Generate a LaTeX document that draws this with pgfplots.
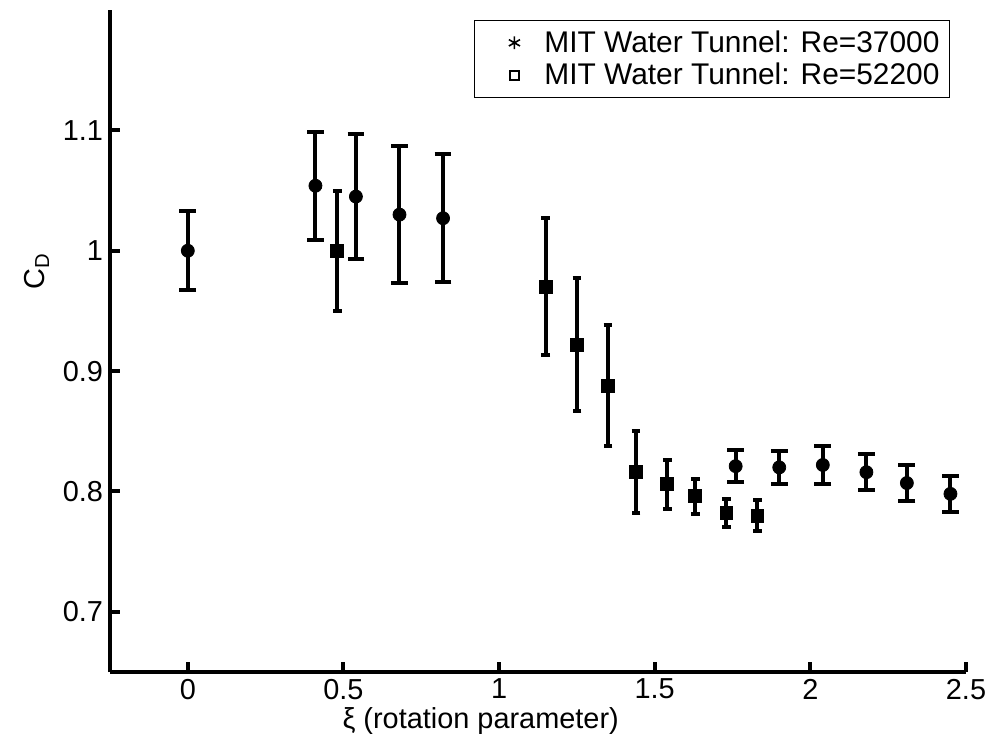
\documentclass[border=0pt]{standalone}
\usepackage{fontspec}
\setmainfont{Liberation Sans}
\usepackage{pgfplots}
\usepackage{pgfplotstable}
\pgfplotsset{compat=1.18}

% Drag coefficient vs. rotation parameter, with measurement uncertainty
\pgfplotstableread{
x     y      e
0.00  1.000  0.033
0.41  1.054  0.045
0.54  1.045  0.052
0.68  1.030  0.057
0.82  1.027  0.053
1.76  0.821  0.0135
1.90  0.820  0.014
2.04  0.822  0.0155
2.18  0.816  0.015
2.31  0.807  0.015
2.45  0.798  0.015
}\lowRe

\pgfplotstableread{
x     y      e
0.48  1.000  0.050
1.15  0.970  0.057
1.25  0.922  0.0555
1.35  0.888  0.050
1.44  0.816  0.034
1.54  0.806  0.0205
1.63  0.796  0.0145
1.73  0.782  0.0115
1.83  0.780  0.0125
}\highRe

\begin{document}
\begin{tikzpicture}
\begin{axis}[
  scale only axis,
  width=428bp, height=331bp,
  xmin=-0.25, xmax=2.5, ymin=0.65, ymax=1.2,
  axis x line*=bottom, axis y line*=left,
  axis line style={line width=2bp, -},
  every outer x axis line/.append style={-},
  every outer y axis line/.append style={-},
  xtick={0,0.5,1,1.5,2,2.5},
  ytick={0.7,0.8,0.9,1,1.1},
  tick align=inside,
  major tick length=5bp,
  tick style={line width=2bp, black},
  /pgf/number format/assume math mode=true,
  ticklabel style={font=\fontsize{14.5}{17}\selectfont},
  label style={font=\fontsize{14.5}{17}\selectfont},
  xlabel={ξ (rotation parameter)},
  ylabel={C\textsubscript{D}},
  xlabel style={at={(ticklabel cs:0.433)}, yshift=3bp},
  ylabel style={at={(ticklabel cs:0.615)}, xshift=-3bp},
  legend image code/.code={%
    \path[draw=none, fill=none] (0bp,0bp) rectangle (30bp,0bp);
    \draw[#1] plot coordinates {(17bp,0bp)};},
  legend style={
    at={(1,1)}, anchor=north east, xshift=-8bp, yshift=-5bp,
    draw=black, line width=0.5bp,
    font=\fontsize{15}{17}\selectfont,
    inner xsep=3bp, inner ysep=3bp,
    row sep=0bp,
    legend cell align=left,
  },
]
\addlegendimage{only marks, mark=asterisk, mark size=3.2bp, black, line width=0.8bp}
\addlegendentry{MIT Water Tunnel: Re=37000}
\addlegendimage{only marks, mark=square, mark size=2.3bp, black, line width=0.7bp}
\addlegendentry{MIT Water Tunnel: Re=52200}

\addplot[forget plot, only marks, mark=*, mark size=3.25bp, black,
  error bars/.cd, y dir=both, y explicit,
  error bar style={line width=2bp, black},
  error mark options={rotate=90, mark size=4.2bp, line width=2bp, black}]
  table[x=x, y=y, y error=e]{\lowRe};

\addplot[forget plot, only marks, mark=square*, mark size=3.2bp, black,
  error bars/.cd, y dir=both, y explicit,
  error bar style={line width=2bp, black},
  error mark options={rotate=90, mark size=2.2bp, line width=2bp, black}]
  table[x=x, y=y, y error=e]{\highRe};
\end{axis}
\pgfresetboundingbox
\path (-55bp,-36bp) rectangle (438.5bp,336bp);
\end{tikzpicture}
\end{document}
